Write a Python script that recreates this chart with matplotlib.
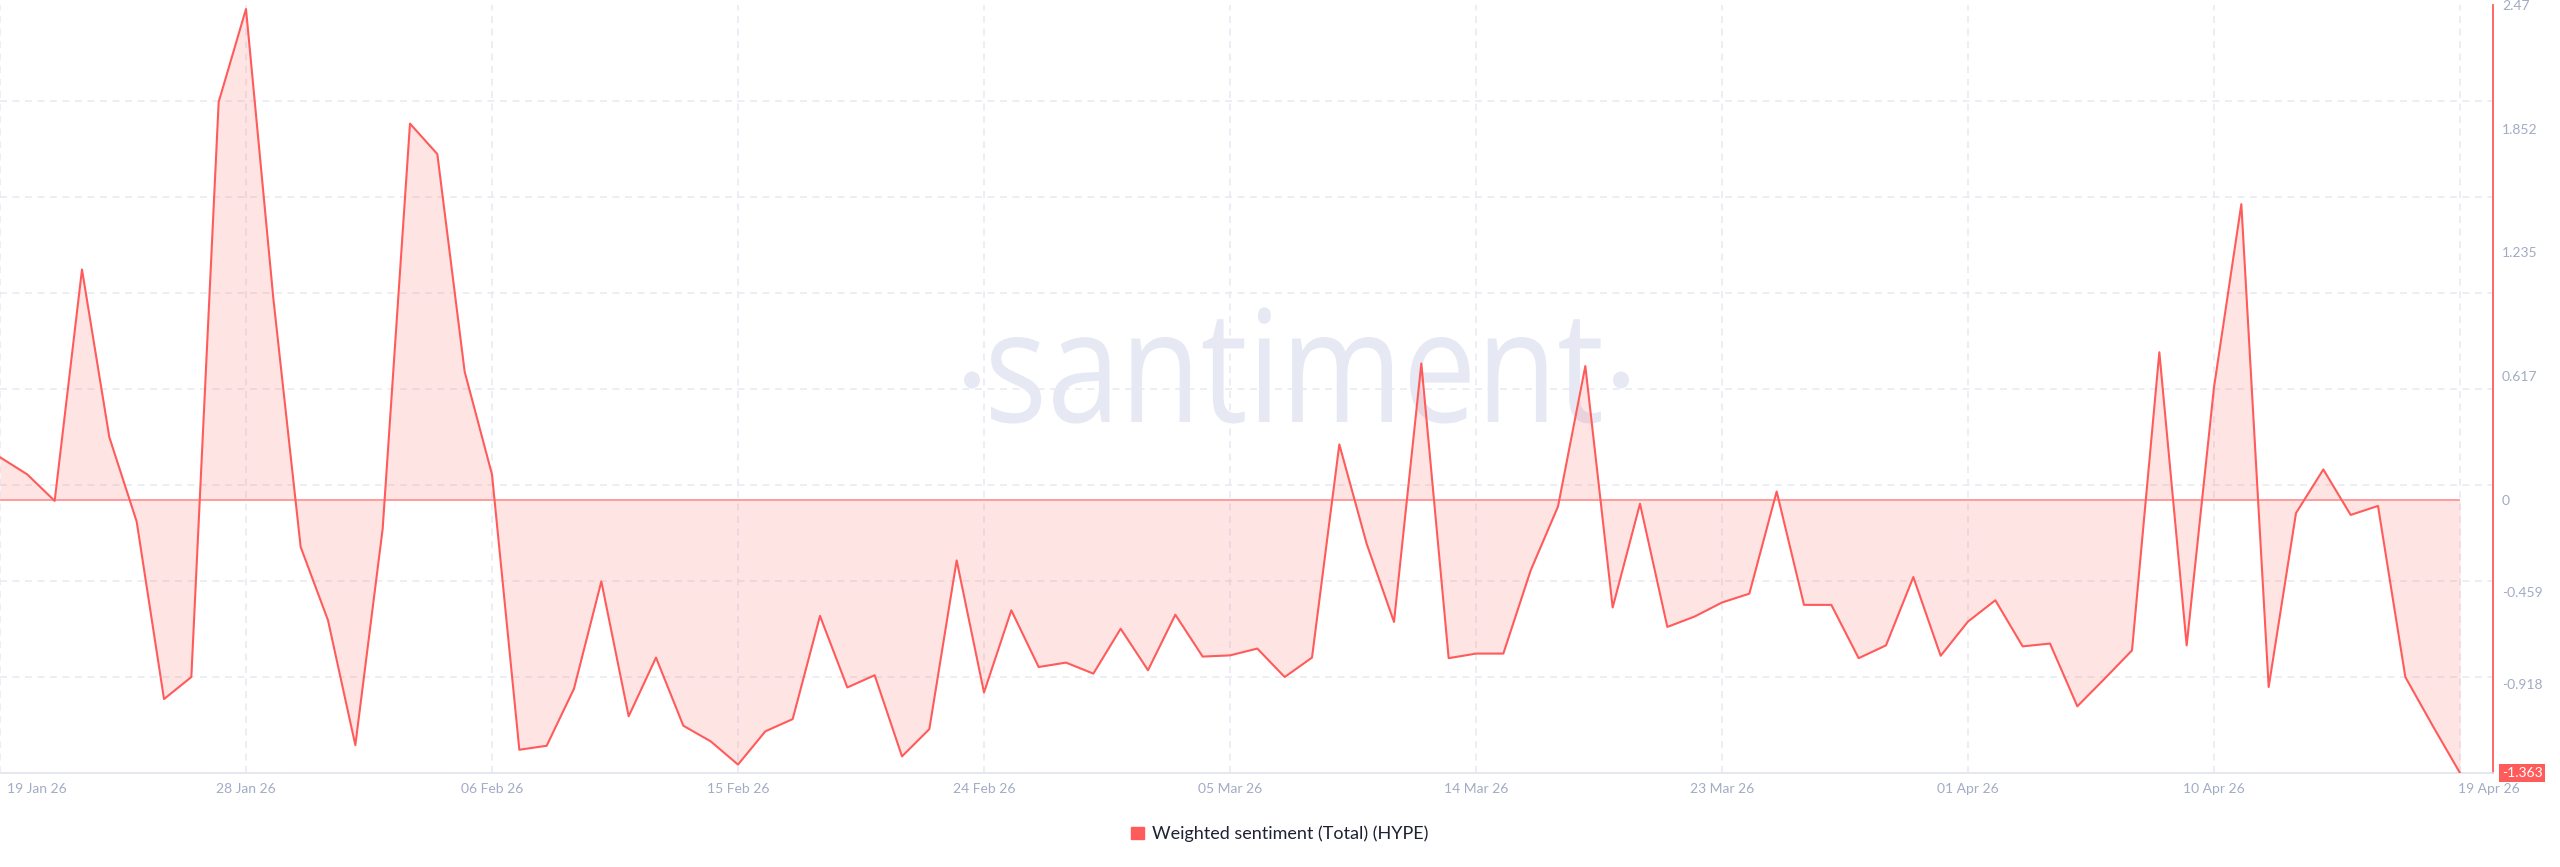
import matplotlib
matplotlib.use("Agg")
import matplotlib.pyplot as plt
import numpy as np
from matplotlib.font_manager import FontProperties
from matplotlib.patches import Ellipse, Patch, PathPatch
from matplotlib.textpath import TextPath
from matplotlib.transforms import Affine2D, IdentityTransform, ScaledTranslation

# Daily weighted sentiment (Total) for HYPE, 19 Jan 26 -> 19 Apr 26.
sentiment = [
    0.213, 0.127, -0.005, 1.15, 0.313, -0.108, -0.994, -0.884, 1.986, 2.45,
    1.006, -0.235, -0.601, -1.224, -0.144, 1.878, 1.726, 0.64, 0.127, -1.247,
    -1.227, -0.942, -0.407, -1.08, -0.787, -1.127, -1.205, -1.321, -1.155, -1.094,
    -0.579, -0.936, -0.875, -1.28, -1.144, -0.302, -0.961, -0.551, -0.834, -0.812,
    -0.867, -0.643, -0.85, -0.573, -0.782, -0.776, -0.742, -0.884, -0.787, 0.277,
    -0.219, -0.609, 0.681, -0.79, -0.767, -0.767, -0.352, -0.033, 0.668, -0.537,
    -0.019, -0.634, -0.582, -0.512, -0.468, 0.042, -0.524, -0.524, -0.79, -0.726,
    -0.385, -0.778, -0.607, -0.501, -0.731, -0.717, -1.03, -0.892, -0.751, 0.737,
    -0.726, 0.562, 1.476, -0.934, -0.066, 0.152, -0.075, -0.03, -0.884, -1.127,
    -1.363,
]
date_tick_labels = [
    "19 Jan 26", "28 Jan 26", "06 Feb 26", "15 Feb 26", "24 Feb 26", "05 Mar 26",
    "14 Mar 26", "23 Mar 26", "01 Apr 26", "10 Apr 26", "19 Apr 26",
]
value_ticks = [2.47, 1.852, 1.235, 0.617, 0, -0.459, -0.918]
value_tick_labels = ["2.47", "1.852", "1.235", "0.617", "0", "-0.459", "-0.918"]
last_value_label = "-1.363"
series_name = "Weighted sentiment (Total) (HYPE)"

RED = "#ff5b5b"
GRID = "#e8eaf3"
TICK = "#a2abc4"

plt.rcParams["font.family"] = ["Lato", "DejaVu Sans"]
plt.rcParams["lines.scale_dashes"] = False

days = np.arange(len(sentiment))
values = np.array(sentiment)

W, H = 2560, 867
fig = plt.figure(figsize=(W / 100, H / 100), dpi=100)
ax = fig.add_axes([0, 1 - 773 / H, 2493 / W, (773 - 5) / H])

# Axis ranges (x: one unit per day, a bit of room after the last point).
ymin, ymax = -1.363, 2.47
ax.set_ylim(ymin, ymax)
ax.set_xlim(0, (len(days) - 1) * 2493 / 2460)

# Watermark drawn in pixel space, squeezed to match the original logo.
prop = FontProperties(family="Open Sans")
word = TextPath((0, 0), "santiment", size=1, prop=prop)
xh = TextPath((0, 0), "n", size=1, prop=prop).get_extents().height
ext = word.get_extents()
sx = 610 / ext.width
sy = 85 / xh
mark_tr = Affine2D().translate(-ext.x0, 0).scale(sx, sy).translate(991, H - 422)
ax.add_patch(PathPatch(word, transform=mark_tr + IdentityTransform(), color="#e6e9f3",
                       lw=0, zorder=0.5, clip_on=False))
for cx in (972, 1621):
    ax.add_patch(Ellipse((cx, H - 380), 16, 17, transform=IdentityTransform(),
                         color="#e6e9f3", lw=0, zorder=0.5, clip_on=False))

# Grid: vertical dashes at date ticks, horizontal dashes at eight equal steps.
ax.set_xticks(days[::9])
ax.set_xticklabels(date_tick_labels)
ax.set_yticks(np.linspace(ymin, ymax, 9), minor=True)
ax.set_yticks(value_ticks)
ax.set_yticklabels(value_tick_labels)
ax.grid(axis="x", which="major", color=GRID, lw=1.1, ls=(0, (5, 4)))
ax.grid(axis="y", which="minor", color=GRID, lw=1.1, ls=(0, (5, 4)))
ax.set_axisbelow(True)

# Series.
ax.fill_between(days, values, 0, color=RED, alpha=0.16, lw=0, zorder=2)
ax.hlines(0, days[0], days[-1], color="#ff9c9c", lw=1.4, zorder=2.5)
ax.plot(days, values, color=RED, lw=1.5, zorder=3)

# Spines and ticks.
for side in ("left", "top"):
    ax.spines[side].set_visible(False)
ax.spines["right"].set_color(RED)
ax.spines["right"].set_linewidth(1.3)
ax.spines["bottom"].set_color("#e1e4ee")
ax.spines["bottom"].set_linewidth(1.2)
ax.yaxis.tick_right()
ax.tick_params(axis="y", which="both", length=0, pad=6.5, labelsize=10, labelcolor=TICK)
ax.tick_params(axis="x", length=0, pad=7, labelsize=10, labelcolor=TICK)

xlabels = ax.get_xticklabels()
xlabels[0].set_ha("left")
xlabels[0].set_transform(xlabels[0].get_transform() + ScaledTranslation(0.07, 0, fig.dpi_scale_trans))
xlabels[-1].set_ha("left")
xlabels[-1].set_transform(xlabels[-1].get_transform() + ScaledTranslation(-0.02, 0, fig.dpi_scale_trans))

# Current value badge on the right axis.
ax.annotate(last_value_label, xy=(1, values[-1]), xycoords=("axes fraction", "data"),
            xytext=(6.5, 0), textcoords="offset points", ha="left", va="center",
            fontsize=10, color="white",
            bbox=dict(boxstyle="square,pad=0.2", fc=RED, ec="none"), annotation_clip=False)

# Legend under the chart.
fig.legend(handles=[Patch(color=RED, label=series_name)], loc="center",
           bbox_to_anchor=(0.5, 1 - 834 / H), frameon=False, fontsize=13,
           handlelength=0.7, handleheight=0.7, handletextpad=0.45, labelcolor="#1f2232")

fig.savefig("out.png", dpi=100, facecolor="white")
